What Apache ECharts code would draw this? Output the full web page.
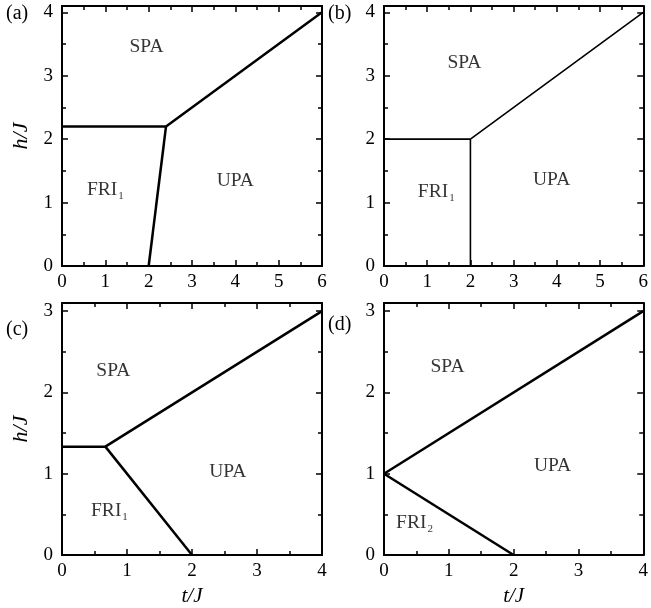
<!DOCTYPE html>
<html>
<head>
<meta charset="utf-8">
<script src="https://cdn.jsdelivr.net/npm/echarts@6/dist/echarts.min.js"></script>
<style>
  html, body { margin: 0; padding: 0; background: #fff; }
  #chart { width: 651px; height: 608px; }
</style>
</head>
<body>
<div id="chart"></div>
<script>
// 四个相图的数据
const panelTags = ['(a)', '(b)', '(c)', '(d)'];
const xMaxes = [6, 6, 4, 4];
const yMaxes = [4.1, 4.1, 3.1, 3.1];

// 相边界 (t/J, h/J)
const boundaryA = [[[0, 2.2], [2.4, 2.2], [6, 4]], [[2, 0], [2.4, 2.2]]];
const boundaryB = [[[0, 2], [2, 2], [6, 4]], [[2, 0], [2, 2]]];
const boundaryC = [[[0, 1.333], [0.667, 1.333], [4, 3]], [[0.667, 1.333], [2, 0]]];
const boundaryD = [[[0, 1], [4, 3]], [[0, 1], [2, 0]]];
const boundaries = [boundaryA, boundaryB, boundaryC, boundaryD];

// 区域名称及位置
const regionNames = [
    ['SPA', 'UPA', 'FRI1'],
    ['SPA', 'UPA', 'FRI1'],
    ['SPA', 'UPA', 'FRI1'],
    ['SPA', 'UPA', 'FRI2']
];
const regionPos = [
    [[1.95, 3.45], [4.0, 1.35], [1.0, 1.2]],
    [[1.86, 3.2], [3.88, 1.36], [1.21, 1.17]],
    [[0.79, 2.27], [2.55, 1.02], [0.73, 0.54]],
    [[0.98, 2.32], [2.6, 1.1], [0.47, 0.39]]
];
const lineWidths = [2.5, 1.6, 2.5, 2.5];

const chart = echarts.init(document.getElementById('chart'));

const serif = 'Liberation Serif';
const grids = [
    { left: 62, top: 6, width: 260, height: 260 },
    { left: 384, top: 6, width: 261, height: 260 },
    { left: 62, top: 303, width: 260, height: 260 },
    { left: 384, top: 303, width: 261, height: 260 }
];

const xAxes = [];
const yAxes = [];
const series = [];
const titles = [];
const tagPos = [[6, 4], [328, 4], [6, 320], [328, 315]];

grids.forEach((g, i) => {
    const common = {
        gridIndex: i,
        type: 'value',
        min: 0,
        interval: 1,
        splitLine: { show: false },
        axisLine: { show: true, onZero: false, lineStyle: { color: '#000', width: 2 } },
        axisTick: { show: true, inside: true, length: 6, lineStyle: { color: '#000', width: 1.5 } },
        minorTick: { show: true, splitNumber: 2, length: 4, lineStyle: { color: '#000', width: 1.5 } }
    };
    // 下方 x 轴
    xAxes.push(Object.assign({}, common, {
        max: xMaxes[i],
        position: 'bottom',
        axisLabel: { color: '#000', fontFamily: serif, fontSize: 19, margin: 7 },
        name: i >= 2 ? 't/J' : '',
        nameLocation: 'middle',
        nameGap: 31,
        nameTextStyle: { color: '#000', fontFamily: serif, fontSize: 21, fontStyle: 'italic' }
    }));
    // 上方 x 轴（只画刻度）
    xAxes.push(Object.assign({}, common, {
        max: xMaxes[i],
        position: 'top',
        axisLabel: { show: false }
    }));
    // 左侧 y 轴
    yAxes.push(Object.assign({}, common, {
        max: yMaxes[i],
        position: 'left',
        axisLabel: { color: '#000', fontFamily: serif, fontSize: 19, margin: 9, showMaxLabel: false },
        name: i % 2 === 0 ? 'h/J' : '',
        nameLocation: 'middle',
        nameRotate: 90,
        nameGap: 30,
        nameTextStyle: { color: '#000', fontFamily: serif, fontSize: 22, fontStyle: 'italic' }
    }));
    // 右侧 y 轴（只画刻度）
    yAxes.push(Object.assign({}, common, {
        max: yMaxes[i],
        position: 'right',
        axisLabel: { show: false }
    }));

    boundaries[i].forEach(seg => {
        series.push({
            type: 'line',
            xAxisIndex: i * 2,
            yAxisIndex: i * 2,
            data: seg,
            symbol: 'none',
            silent: true,
            lineStyle: { color: '#000', width: lineWidths[i] }
        });
    });

    series.push({
        type: 'scatter',
        xAxisIndex: i * 2,
        yAxisIndex: i * 2,
        symbolSize: 0,
        silent: true,
        itemStyle: { color: '#000' },
        data: regionPos[i].map((p, k) => ({ value: p, name: regionNames[i][k] })),
        label: {
            show: true,
            position: 'inside',
            color: '#000',
            textBorderWidth: 0,
            textBorderColor: 'transparent',
            fontFamily: serif,
            fontSize: 19.5,
            formatter: p => {
                const m = p.name.match(/^(FRI)(\d)$/);
                return m ? '{b|' + m[1] + '}{s|' + m[2] + '}' : '{b|' + p.name + '}';
            },
            rich: {
                b: { fontFamily: serif, fontSize: 19.5, color: '#000', textBorderWidth: 0 },
                s: { fontFamily: serif, fontSize: 11, color: '#000', textBorderWidth: 0, padding: [12, 0, 0, 1] }
            }
        }
    });

    titles.push({
        text: panelTags[i],
        left: tagPos[i][0],
        top: tagPos[i][1],
        padding: 0,
        textStyle: { color: '#000', fontFamily: serif, fontSize: 20, fontWeight: 'normal' }
    });
});

chart.setOption({
    animation: false,
    backgroundColor: '#fff',
    title: titles,
    grid: grids,
    xAxis: xAxes,
    yAxis: yAxes,
    series: series
});
</script>
</body>
</html>
